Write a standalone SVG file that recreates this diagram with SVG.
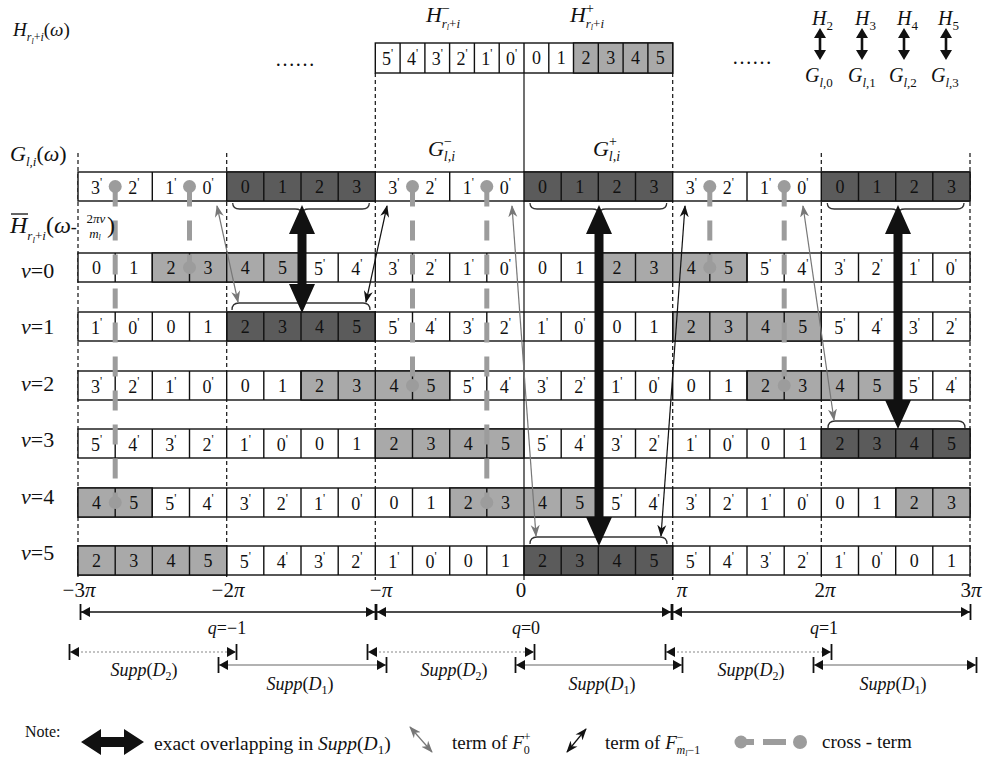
<svg xmlns="http://www.w3.org/2000/svg" width="985" height="760" viewBox="0 0 985 760" font-family="Liberation Serif, Times New Roman, serif">
<style>
text{font-family:"Liberation Serif","Times New Roman",serif;fill:#111}
.c{font-size:18px;text-anchor:middle}
.p{font-size:12px}
.it{font-style:italic}
.w{fill:#fff;stroke:#111;stroke-width:1.4}
.g{fill:#a9a9a9;stroke:#111;stroke-width:1.4}
.d{fill:#5b5b5b;stroke:#111;stroke-width:1.4}
.dv{stroke:#111;stroke-width:1.4;fill:none}
.gd{stroke:#111;stroke-width:1.2;stroke-dasharray:4 3}
.ct{stroke:#9c9c9c;stroke-width:5;stroke-dasharray:20 14;fill:none}
.dt{fill:#9c9c9c}
.br{fill:none;stroke:#333;stroke-width:1.3}
.tg{stroke:#777;stroke-width:1.2;fill:none}
.tk{stroke:#111;stroke-width:1.2;fill:none}
.big{fill:#111}
.ql{stroke:#111;stroke-width:1.3}
.d2{stroke:#888;stroke-width:1.2;stroke-dasharray:2 2}
.d1{stroke:#999;stroke-width:1.5}
</style>
<defs>
<path id="dvr" class="dv" d="M115.2 0v29M152.3 0v29M189.5 0v29M226.7 0v29M263.8 0v29M301 0v29M338.2 0v29M375.3 0v29M412.5 0v29M449.7 0v29M486.8 0v29M524 0v29M561.2 0v29M598.3 0v29M635.5 0v29M672.7 0v29M709.8 0v29M747 0v29M784.2 0v29M821.3 0v29M858.5 0v29M895.7 0v29M932.8 0v29"/>
<marker id="mg" viewBox="0 0 12 10" refX="11" refY="5" markerWidth="12" markerHeight="10" markerUnits="userSpaceOnUse" orient="auto-start-reverse"><path d="M0,0.5 L12,5 L0,9.5 L3.5,5 Z" fill="#777"/></marker>
<marker id="mk" viewBox="0 0 12 10" refX="11" refY="5" markerWidth="12" markerHeight="10" markerUnits="userSpaceOnUse" orient="auto-start-reverse"><path d="M0,0.5 L12,5 L0,9.5 L3.5,5 Z" fill="#111"/></marker>
<marker id="mb" viewBox="0 -9 12 18" refX="11" refY="0" markerWidth="12" markerHeight="18" markerUnits="userSpaceOnUse" orient="auto-start-reverse"><path d="M1,-5 L10,0 L1,5 Z" fill="#111"/><path d="M10.5,-8 V8" stroke="#111" stroke-width="1.8"/></marker>
</defs>
<rect x="0" y="0" width="985" height="760" fill="#fff"/>

<g id="guides">
<path class="gd" d="M78 153V580M226.7 153V580M375.3 73V580M672.7 73V580M821.3 153V580M970 153V580"/>
<path stroke="#111" stroke-width="1.2" d="M524 73V580"/>
</g>

<g id="h-row">
<rect class="w" x="375.3" y="43" width="297.4" height="30"/>
<rect class="g" x="573.5" y="43" width="99.2" height="30"/>
<path class="dv" d="M400.1 43v30M424.9 43v30M449.6 43v30M474.4 43v30M499.2 43v30M524 43v30M548.8 43v30M598.3 43v30M623.1 43v30M647.9 43v30"/>
<text class="c" x="387.7" y="65">5<tspan class="p" dy="-8">'</tspan></text>
<text class="c" x="412.5" y="65">4<tspan class="p" dy="-8">'</tspan></text>
<text class="c" x="437.3" y="65">3<tspan class="p" dy="-8">'</tspan></text>
<text class="c" x="462" y="65">2<tspan class="p" dy="-8">'</tspan></text>
<text class="c" x="486.8" y="65">1<tspan class="p" dy="-8">'</tspan></text>
<text class="c" x="511.6" y="65">0<tspan class="p" dy="-8">'</tspan></text>
<text class="c" x="536.4" y="64">0</text>
<text class="c" x="561.2" y="64">1</text>
<text class="c" x="585.9" y="64">2</text>
<text class="c" x="610.7" y="64">3</text>
<text class="c" x="635.5" y="64">4</text>
<text class="c" x="660.3" y="64">5</text>
</g>

<g id="g-row">
<rect class="w" x="78" y="172" width="892" height="29"/>
<rect class="d" x="226.7" y="172" width="148.6" height="29"/>
<rect class="d" x="524" y="172" width="148.7" height="29"/>
<rect class="d" x="821.3" y="172" width="148.7" height="29"/>
<path class="dv" d="M152.3 172v29M263.8 172v29M301 172v29M338.2 172v29M449.7 172v29M561.2 172v29M598.3 172v29M635.5 172v29M747 172v29M858.5 172v29M895.7 172v29M932.8 172v29"/>
<text class="c" x="96.6" y="194">3<tspan class="p" dy="-8">'</tspan></text>
<text class="c" x="133.8" y="194">2<tspan class="p" dy="-8">'</tspan></text>
<text class="c" x="170.9" y="194">1<tspan class="p" dy="-8">'</tspan></text>
<text class="c" x="208.1" y="194">0<tspan class="p" dy="-8">'</tspan></text>
<text class="c" x="245.3" y="193">0</text>
<text class="c" x="282.4" y="193">1</text>
<text class="c" x="319.6" y="193">2</text>
<text class="c" x="356.8" y="193">3</text>
<text class="c" x="393.9" y="194">3<tspan class="p" dy="-8">'</tspan></text>
<text class="c" x="431.1" y="194">2<tspan class="p" dy="-8">'</tspan></text>
<text class="c" x="468.3" y="194">1<tspan class="p" dy="-8">'</tspan></text>
<text class="c" x="505.4" y="194">0<tspan class="p" dy="-8">'</tspan></text>
<text class="c" x="542.6" y="193">0</text>
<text class="c" x="579.8" y="193">1</text>
<text class="c" x="616.9" y="193">2</text>
<text class="c" x="654.1" y="193">3</text>
<text class="c" x="691.3" y="194">3<tspan class="p" dy="-8">'</tspan></text>
<text class="c" x="728.4" y="194">2<tspan class="p" dy="-8">'</tspan></text>
<text class="c" x="765.6" y="194">1<tspan class="p" dy="-8">'</tspan></text>
<text class="c" x="802.8" y="194">0<tspan class="p" dy="-8">'</tspan></text>
<text class="c" x="839.9" y="193">0</text>
<text class="c" x="877.1" y="193">1</text>
<text class="c" x="914.3" y="193">2</text>
<text class="c" x="951.4" y="193">3</text>
</g>

<g id="row-v0">
<rect class="w" x="78" y="253" width="892" height="29"/>
<rect class="g" x="152.3" y="253" width="148.7" height="29"/>
<rect class="g" x="598.3" y="253" width="148.7" height="29"/>
<use href="#dvr" y="253"/>
<text class="c" x="96.6" y="274">0</text>
<text class="c" x="133.8" y="274">1</text>
<text class="c" x="170.9" y="274">2</text>
<text class="c" x="208.1" y="274">3</text>
<text class="c" x="245.3" y="274">4</text>
<text class="c" x="282.4" y="274">5</text>
<text class="c" x="319.6" y="275">5<tspan class="p" dy="-8">'</tspan></text>
<text class="c" x="356.8" y="275">4<tspan class="p" dy="-8">'</tspan></text>
<text class="c" x="393.9" y="275">3<tspan class="p" dy="-8">'</tspan></text>
<text class="c" x="431.1" y="275">2<tspan class="p" dy="-8">'</tspan></text>
<text class="c" x="468.3" y="275">1<tspan class="p" dy="-8">'</tspan></text>
<text class="c" x="505.4" y="275">0<tspan class="p" dy="-8">'</tspan></text>
<text class="c" x="542.6" y="274">0</text>
<text class="c" x="579.8" y="274">1</text>
<text class="c" x="616.9" y="274">2</text>
<text class="c" x="654.1" y="274">3</text>
<text class="c" x="691.3" y="274">4</text>
<text class="c" x="728.4" y="274">5</text>
<text class="c" x="765.6" y="275">5<tspan class="p" dy="-8">'</tspan></text>
<text class="c" x="802.8" y="275">4<tspan class="p" dy="-8">'</tspan></text>
<text class="c" x="839.9" y="275">3<tspan class="p" dy="-8">'</tspan></text>
<text class="c" x="877.1" y="275">2<tspan class="p" dy="-8">'</tspan></text>
<text class="c" x="914.3" y="275">1<tspan class="p" dy="-8">'</tspan></text>
<text class="c" x="951.4" y="275">0<tspan class="p" dy="-8">'</tspan></text>
</g>

<g id="row-v1">
<rect class="w" x="78" y="312" width="892" height="29"/>
<rect class="d" x="226.7" y="312" width="148.6" height="29"/>
<rect class="g" x="672.7" y="312" width="148.6" height="29"/>
<use href="#dvr" y="312"/>
<text class="c" x="96.6" y="334">1<tspan class="p" dy="-8">'</tspan></text>
<text class="c" x="133.8" y="334">0<tspan class="p" dy="-8">'</tspan></text>
<text class="c" x="170.9" y="333">0</text>
<text class="c" x="208.1" y="333">1</text>
<text class="c" x="245.3" y="333">2</text>
<text class="c" x="282.4" y="333">3</text>
<text class="c" x="319.6" y="333">4</text>
<text class="c" x="356.8" y="333">5</text>
<text class="c" x="393.9" y="334">5<tspan class="p" dy="-8">'</tspan></text>
<text class="c" x="431.1" y="334">4<tspan class="p" dy="-8">'</tspan></text>
<text class="c" x="468.3" y="334">3<tspan class="p" dy="-8">'</tspan></text>
<text class="c" x="505.4" y="334">2<tspan class="p" dy="-8">'</tspan></text>
<text class="c" x="542.6" y="334">1<tspan class="p" dy="-8">'</tspan></text>
<text class="c" x="579.8" y="334">0<tspan class="p" dy="-8">'</tspan></text>
<text class="c" x="616.9" y="333">0</text>
<text class="c" x="654.1" y="333">1</text>
<text class="c" x="691.3" y="333">2</text>
<text class="c" x="728.4" y="333">3</text>
<text class="c" x="765.6" y="333">4</text>
<text class="c" x="802.8" y="333">5</text>
<text class="c" x="839.9" y="334">5<tspan class="p" dy="-8">'</tspan></text>
<text class="c" x="877.1" y="334">4<tspan class="p" dy="-8">'</tspan></text>
<text class="c" x="914.3" y="334">3<tspan class="p" dy="-8">'</tspan></text>
<text class="c" x="951.4" y="334">2<tspan class="p" dy="-8">'</tspan></text>
</g>

<g id="row-v2">
<rect class="w" x="78" y="371" width="892" height="29"/>
<rect class="g" x="301" y="371" width="148.7" height="29"/>
<rect class="g" x="747" y="371" width="148.7" height="29"/>
<use href="#dvr" y="371"/>
<text class="c" x="96.6" y="393">3<tspan class="p" dy="-8">'</tspan></text>
<text class="c" x="133.8" y="393">2<tspan class="p" dy="-8">'</tspan></text>
<text class="c" x="170.9" y="393">1<tspan class="p" dy="-8">'</tspan></text>
<text class="c" x="208.1" y="393">0<tspan class="p" dy="-8">'</tspan></text>
<text class="c" x="245.3" y="392">0</text>
<text class="c" x="282.4" y="392">1</text>
<text class="c" x="319.6" y="392">2</text>
<text class="c" x="356.8" y="392">3</text>
<text class="c" x="393.9" y="392">4</text>
<text class="c" x="431.1" y="392">5</text>
<text class="c" x="468.3" y="393">5<tspan class="p" dy="-8">'</tspan></text>
<text class="c" x="505.4" y="393">4<tspan class="p" dy="-8">'</tspan></text>
<text class="c" x="542.6" y="393">3<tspan class="p" dy="-8">'</tspan></text>
<text class="c" x="579.8" y="393">2<tspan class="p" dy="-8">'</tspan></text>
<text class="c" x="616.9" y="393">1<tspan class="p" dy="-8">'</tspan></text>
<text class="c" x="654.1" y="393">0<tspan class="p" dy="-8">'</tspan></text>
<text class="c" x="691.3" y="392">0</text>
<text class="c" x="728.4" y="392">1</text>
<text class="c" x="765.6" y="392">2</text>
<text class="c" x="802.8" y="392">3</text>
<text class="c" x="839.9" y="392">4</text>
<text class="c" x="877.1" y="392">5</text>
<text class="c" x="914.3" y="393">5<tspan class="p" dy="-8">'</tspan></text>
<text class="c" x="951.4" y="393">4<tspan class="p" dy="-8">'</tspan></text>
</g>

<g id="row-v3">
<rect class="w" x="78" y="429" width="892" height="29"/>
<rect class="g" x="375.3" y="429" width="148.7" height="29"/>
<rect class="d" x="821.3" y="429" width="148.7" height="29"/>
<use href="#dvr" y="429"/>
<text class="c" x="96.6" y="451">5<tspan class="p" dy="-8">'</tspan></text>
<text class="c" x="133.8" y="451">4<tspan class="p" dy="-8">'</tspan></text>
<text class="c" x="170.9" y="451">3<tspan class="p" dy="-8">'</tspan></text>
<text class="c" x="208.1" y="451">2<tspan class="p" dy="-8">'</tspan></text>
<text class="c" x="245.3" y="451">1<tspan class="p" dy="-8">'</tspan></text>
<text class="c" x="282.4" y="451">0<tspan class="p" dy="-8">'</tspan></text>
<text class="c" x="319.6" y="450">0</text>
<text class="c" x="356.8" y="450">1</text>
<text class="c" x="393.9" y="450">2</text>
<text class="c" x="431.1" y="450">3</text>
<text class="c" x="468.3" y="450">4</text>
<text class="c" x="505.4" y="450">5</text>
<text class="c" x="542.6" y="451">5<tspan class="p" dy="-8">'</tspan></text>
<text class="c" x="579.8" y="451">4<tspan class="p" dy="-8">'</tspan></text>
<text class="c" x="616.9" y="451">3<tspan class="p" dy="-8">'</tspan></text>
<text class="c" x="654.1" y="451">2<tspan class="p" dy="-8">'</tspan></text>
<text class="c" x="691.3" y="451">1<tspan class="p" dy="-8">'</tspan></text>
<text class="c" x="728.4" y="451">0<tspan class="p" dy="-8">'</tspan></text>
<text class="c" x="765.6" y="450">0</text>
<text class="c" x="802.8" y="450">1</text>
<text class="c" x="839.9" y="450">2</text>
<text class="c" x="877.1" y="450">3</text>
<text class="c" x="914.3" y="450">4</text>
<text class="c" x="951.4" y="450">5</text>
</g>

<g id="row-v4">
<rect class="w" x="78" y="488" width="892" height="29"/>
<rect class="g" x="78" y="488" width="74.3" height="29"/>
<rect class="g" x="449.7" y="488" width="148.6" height="29"/>
<rect class="g" x="895.7" y="488" width="74.3" height="29"/>
<use href="#dvr" y="488"/>
<text class="c" x="96.6" y="509">4</text>
<text class="c" x="133.8" y="509">5</text>
<text class="c" x="170.9" y="510">5<tspan class="p" dy="-8">'</tspan></text>
<text class="c" x="208.1" y="510">4<tspan class="p" dy="-8">'</tspan></text>
<text class="c" x="245.3" y="510">3<tspan class="p" dy="-8">'</tspan></text>
<text class="c" x="282.4" y="510">2<tspan class="p" dy="-8">'</tspan></text>
<text class="c" x="319.6" y="510">1<tspan class="p" dy="-8">'</tspan></text>
<text class="c" x="356.8" y="510">0<tspan class="p" dy="-8">'</tspan></text>
<text class="c" x="393.9" y="509">0</text>
<text class="c" x="431.1" y="509">1</text>
<text class="c" x="468.3" y="509">2</text>
<text class="c" x="505.4" y="509">3</text>
<text class="c" x="542.6" y="509">4</text>
<text class="c" x="579.8" y="509">5</text>
<text class="c" x="616.9" y="510">5<tspan class="p" dy="-8">'</tspan></text>
<text class="c" x="654.1" y="510">4<tspan class="p" dy="-8">'</tspan></text>
<text class="c" x="691.3" y="510">3<tspan class="p" dy="-8">'</tspan></text>
<text class="c" x="728.4" y="510">2<tspan class="p" dy="-8">'</tspan></text>
<text class="c" x="765.6" y="510">1<tspan class="p" dy="-8">'</tspan></text>
<text class="c" x="802.8" y="510">0<tspan class="p" dy="-8">'</tspan></text>
<text class="c" x="839.9" y="509">0</text>
<text class="c" x="877.1" y="509">1</text>
<text class="c" x="914.3" y="509">2</text>
<text class="c" x="951.4" y="509">3</text>
</g>

<g id="row-v5">
<rect class="w" x="78" y="546" width="892" height="29"/>
<rect class="g" x="78" y="546" width="148.7" height="29"/>
<rect class="d" x="524" y="546" width="148.7" height="29"/>
<use href="#dvr" y="546"/>
<text class="c" x="96.6" y="567">2</text>
<text class="c" x="133.8" y="567">3</text>
<text class="c" x="170.9" y="567">4</text>
<text class="c" x="208.1" y="567">5</text>
<text class="c" x="245.3" y="568">5<tspan class="p" dy="-8">'</tspan></text>
<text class="c" x="282.4" y="568">4<tspan class="p" dy="-8">'</tspan></text>
<text class="c" x="319.6" y="568">3<tspan class="p" dy="-8">'</tspan></text>
<text class="c" x="356.8" y="568">2<tspan class="p" dy="-8">'</tspan></text>
<text class="c" x="393.9" y="568">1<tspan class="p" dy="-8">'</tspan></text>
<text class="c" x="431.1" y="568">0<tspan class="p" dy="-8">'</tspan></text>
<text class="c" x="468.3" y="567">0</text>
<text class="c" x="505.4" y="567">1</text>
<text class="c" x="542.6" y="567">2</text>
<text class="c" x="579.8" y="567">3</text>
<text class="c" x="616.9" y="567">4</text>
<text class="c" x="654.1" y="567">5</text>
<text class="c" x="691.3" y="568">5<tspan class="p" dy="-8">'</tspan></text>
<text class="c" x="728.4" y="568">4<tspan class="p" dy="-8">'</tspan></text>
<text class="c" x="765.6" y="568">3<tspan class="p" dy="-8">'</tspan></text>
<text class="c" x="802.8" y="568">2<tspan class="p" dy="-8">'</tspan></text>
<text class="c" x="839.9" y="568">1<tspan class="p" dy="-8">'</tspan></text>
<text class="c" x="877.1" y="568">0<tspan class="p" dy="-8">'</tspan></text>
<text class="c" x="914.3" y="567">0</text>
<text class="c" x="951.4" y="567">1</text>
</g>

<g id="connectors">
<g id="braces">
<path class="br" d="M232.7 203Q232.7 209 239.7 209L295 209Q302 209 302 214Q302 209 309 209L362.3 209Q369.3 209 369.3 203"/>
<path class="br" d="M530 203Q530 209 537 209L592 209Q599 209 599 214Q599 209 606 209L659.7 209Q666.7 209 666.7 203"/>
<path class="br" d="M827.3 203Q827.3 209 834.3 209L891 209Q898 209 898 214Q898 209 905 209L957 209Q964 209 964 203"/>
<path class="br" d="M232 310Q232 303 239 303L363 303Q370 303 370 310"/>
<path class="br" d="M530 544Q530 537 537 537L660 537Q667 537 667 544"/>
<path class="br" d="M828 428Q828 421 835 421L958 421Q965 421 965 428"/>
</g>
<g id="cross-terms">
<path class="ct" d="M115.2 186.5V502.5M189.5 186.5V267.5M412.5 186.5V385.5M486.8 186.5V502.5M709.8 186.5V267.5M784.2 186.5V385.5"/>
<circle class="dt" cx="115.2" cy="186.5" r="6.5"/><circle class="dt" cx="115.2" cy="502.5" r="6.5"/>
<circle class="dt" cx="189.5" cy="186.5" r="6.5"/><circle class="dt" cx="189.5" cy="267.5" r="6.5"/>
<circle class="dt" cx="412.5" cy="186.5" r="6.5"/><circle class="dt" cx="412.5" cy="385.5" r="6.5"/>
<circle class="dt" cx="486.8" cy="186.5" r="6.5"/><circle class="dt" cx="486.8" cy="502.5" r="6.5"/>
<circle class="dt" cx="709.8" cy="186.5" r="6.5"/><circle class="dt" cx="709.8" cy="267.5" r="6.5"/>
<circle class="dt" cx="784.2" cy="186.5" r="6.5"/><circle class="dt" cx="784.2" cy="385.5" r="6.5"/>
</g>
<g id="thin-arrows">
<line class="tg" x1="217" y1="206" x2="238" y2="302" marker-start="url(#mg)" marker-end="url(#mg)"/>
<line class="tg" x1="512" y1="206" x2="536" y2="536" marker-start="url(#mg)" marker-end="url(#mg)"/>
<line class="tg" x1="803" y1="206" x2="834" y2="420" marker-start="url(#mg)" marker-end="url(#mg)"/>
<line class="tk" x1="387" y1="206" x2="366" y2="302" marker-start="url(#mk)" marker-end="url(#mk)"/>
<line class="tk" x1="685" y1="206" x2="661" y2="536" marker-start="url(#mk)" marker-end="url(#mk)"/>
</g>
<g id="overlap-arrows">
<polygon class="big" points="302,205 315,234 306.5,234 306.5,284 315,284 302,313 289,284 297.5,284 297.5,234 289,234"/>
<polygon class="big" points="599,205 612,234 603.5,234 603.5,517 612,517 599,546 586,517 594.5,517 594.5,234 586,234"/>
<polygon class="big" points="898,205 911,234 902.5,234 902.5,400 911,400 898,429 885,400 893.5,400 893.5,234 885,234"/>
</g>
</g>

<g id="labels">
<text x="13" y="36" font-size="19"><tspan class="it">H</tspan><tspan class="it" font-size="12" dy="5">r</tspan><tspan class="it" font-size="8" dy="3">l</tspan><tspan font-size="12" dy="-3">+</tspan><tspan class="it" font-size="12">i</tspan><tspan dy="-5">(</tspan><tspan class="it">ω</tspan>)</text>
<text x="10" y="161" font-size="22"><tspan class="it">G</tspan><tspan class="it" font-size="13" dy="5">l,i</tspan><tspan dy="-5">(</tspan><tspan class="it">ω</tspan>)</text>
<text x="10" y="233" font-size="24"><tspan class="it">H</tspan><tspan class="it" font-size="13" dy="7">r</tspan><tspan class="it" font-size="9" dy="3">l</tspan><tspan font-size="13" dy="-3">+</tspan><tspan class="it" font-size="13">i</tspan><tspan dy="-7">(</tspan><tspan class="it">ω</tspan><tspan font-size="18">-</tspan></text>
<line x1="11" y1="214" x2="28" y2="214" stroke="#111" stroke-width="1.3"/>
<text x="96" y="223" font-size="13" text-anchor="middle">2<tspan class="it">πv</tspan></text>
<text x="95" y="238" font-size="13" text-anchor="middle"><tspan class="it">m</tspan><tspan class="it" font-size="8" dy="2">l</tspan></text>
<text x="107" y="233" font-size="24">)</text>
<text x="21" y="277.5" font-size="22"><tspan class="it">v</tspan>=0</text>
<text x="21" y="334" font-size="22"><tspan class="it">v</tspan>=1</text>
<text x="21" y="390.5" font-size="22"><tspan class="it">v</tspan>=2</text>
<text x="21" y="447" font-size="22"><tspan class="it">v</tspan>=3</text>
<text x="21" y="503.5" font-size="22"><tspan class="it">v</tspan>=4</text>
<text x="21" y="560" font-size="22"><tspan class="it">v</tspan>=5</text>
<text x="275" y="66" font-size="20">……</text>
<text x="732" y="64" font-size="20">……</text>
<text x="426" y="22" font-size="22"><tspan class="it">H</tspan><tspan font-size="14" dy="-9">−</tspan><tspan class="it" font-size="13" dx="-8" dy="15">r</tspan><tspan class="it" font-size="8" dy="2">l</tspan><tspan font-size="13" dy="-2">+</tspan><tspan class="it" font-size="13">i</tspan></text>
<text x="570" y="22" font-size="22"><tspan class="it">H</tspan><tspan font-size="14" dy="-9">+</tspan><tspan class="it" font-size="13" dx="-8" dy="15">r</tspan><tspan class="it" font-size="8" dy="2">l</tspan><tspan font-size="13" dy="-2">+</tspan><tspan class="it" font-size="13">i</tspan></text>
<text x="428" y="156" font-size="22"><tspan class="it">G</tspan><tspan font-size="14" dy="-10">−</tspan><tspan class="it" font-size="14" dx="-8" dy="15">l,i</tspan></text>
<text x="593" y="156" font-size="22"><tspan class="it">G</tspan><tspan font-size="14" dy="-10">+</tspan><tspan class="it" font-size="14" dx="-8" dy="15">l,i</tspan></text>
</g>

<g id="mapping-legend">
<text x="812" y="25" font-size="20"><tspan class="it">H</tspan><tspan font-size="13" dy="5">2</tspan></text>
<text x="855" y="25" font-size="20"><tspan class="it">H</tspan><tspan font-size="13" dy="5">3</tspan></text>
<text x="897" y="25" font-size="20"><tspan class="it">H</tspan><tspan font-size="13" dy="5">4</tspan></text>
<text x="938" y="25" font-size="20"><tspan class="it">H</tspan><tspan font-size="13" dy="5">5</tspan></text>
<polygon class="big" points="820,28 826,38 821.3,38 821.3,50 826,50 820,60 814,50 818.7,50 818.7,38 814,38"/>
<polygon class="big" points="862,28 868,38 863.3,38 863.3,50 868,50 862,60 856,50 860.7,50 860.7,38 856,38"/>
<polygon class="big" points="904,28 910,38 905.3,38 905.3,50 910,50 904,60 898,50 902.7,50 902.7,38 898,38"/>
<polygon class="big" points="946,28 952,38 947.3,38 947.3,50 952,50 946,60 940,50 944.7,50 944.7,38 940,38"/>
<text x="805" y="82" font-size="20"><tspan class="it">G</tspan><tspan font-size="13" dy="5"><tspan class="it">l</tspan>,0</tspan></text>
<text x="848" y="82" font-size="20"><tspan class="it">G</tspan><tspan font-size="13" dy="5"><tspan class="it">l</tspan>,1</tspan></text>
<text x="889" y="82" font-size="20"><tspan class="it">G</tspan><tspan font-size="13" dy="5"><tspan class="it">l</tspan>,2</tspan></text>
<text x="931" y="82" font-size="20"><tspan class="it">G</tspan><tspan font-size="13" dy="5"><tspan class="it">l</tspan>,3</tspan></text>
</g>

<g id="axis">
<text x="79" y="597" font-size="21" text-anchor="middle">−3<tspan class="it">π</tspan></text>
<text x="228" y="597" font-size="21" text-anchor="middle">−2<tspan class="it">π</tspan></text>
<text x="381" y="597" font-size="21" text-anchor="middle">−<tspan class="it">π</tspan></text>
<text x="521" y="597" font-size="21" text-anchor="middle">0</text>
<text x="682" y="597" font-size="21" text-anchor="middle"><tspan class="it">π</tspan></text>
<text x="825" y="597" font-size="21" text-anchor="middle">2<tspan class="it">π</tspan></text>
<text x="971" y="597" font-size="21" text-anchor="middle">3<tspan class="it">π</tspan></text>
</g>

<g id="q-ranges">
<line class="ql" x1="80" y1="612" x2="376" y2="612" marker-start="url(#mb)" marker-end="url(#mb)"/>
<line class="ql" x1="376" y1="612" x2="672" y2="612" marker-start="url(#mb)" marker-end="url(#mb)"/>
<line class="ql" x1="672" y1="612" x2="971" y2="612" marker-start="url(#mb)" marker-end="url(#mb)"/>
<text x="227" y="634" font-size="18" text-anchor="middle"><tspan class="it">q</tspan>=−1</text>
<text x="526" y="634" font-size="18" text-anchor="middle"><tspan class="it">q</tspan>=0</text>
<text x="824" y="634" font-size="18" text-anchor="middle"><tspan class="it">q</tspan>=1</text>
</g>

<g id="supp-ranges">
<line class="d2" x1="69" y1="652" x2="237" y2="652" marker-start="url(#mb)" marker-end="url(#mb)"/>
<line class="d2" x1="367" y1="652" x2="535" y2="652" marker-start="url(#mb)" marker-end="url(#mb)"/>
<line class="d2" x1="665" y1="652" x2="832" y2="652" marker-start="url(#mb)" marker-end="url(#mb)"/>
<line class="d1" x1="218" y1="665" x2="387" y2="665" marker-start="url(#mb)" marker-end="url(#mb)"/>
<line class="d1" x1="515" y1="665" x2="683" y2="665" marker-start="url(#mb)" marker-end="url(#mb)"/>
<line class="d1" x1="813" y1="665" x2="977" y2="665" marker-start="url(#mb)" marker-end="url(#mb)"/>
<text x="144" y="676" font-size="18" text-anchor="middle"><tspan class="it">Supp</tspan>(<tspan class="it">D</tspan><tspan font-size="12" dy="4">2</tspan><tspan dy="-4">)</tspan></text>
<text x="454" y="676" font-size="18" text-anchor="middle"><tspan class="it">Supp</tspan>(<tspan class="it">D</tspan><tspan font-size="12" dy="4">2</tspan><tspan dy="-4">)</tspan></text>
<text x="751" y="676" font-size="18" text-anchor="middle"><tspan class="it">Supp</tspan>(<tspan class="it">D</tspan><tspan font-size="12" dy="4">2</tspan><tspan dy="-4">)</tspan></text>
<text x="300" y="690" font-size="18" text-anchor="middle"><tspan class="it">Supp</tspan>(<tspan class="it">D</tspan><tspan font-size="12" dy="4">1</tspan><tspan dy="-4">)</tspan></text>
<text x="602" y="690" font-size="18" text-anchor="middle"><tspan class="it">Supp</tspan>(<tspan class="it">D</tspan><tspan font-size="12" dy="4">1</tspan><tspan dy="-4">)</tspan></text>
<text x="893" y="690" font-size="18" text-anchor="middle"><tspan class="it">Supp</tspan>(<tspan class="it">D</tspan><tspan font-size="12" dy="4">1</tspan><tspan dy="-4">)</tspan></text>
</g>

<g id="legend">
<text x="25" y="737" font-size="16">Note:</text>
<polygon class="big" points="81,742 101,729 101,737 124,737 124,729 144,742 124,755 124,747 101,747 101,755"/>
<text x="154" y="750" font-size="19.5">exact overlapping in <tspan class="it">Supp</tspan>(<tspan class="it">D</tspan><tspan font-size="13" dy="4">1</tspan><tspan dy="-4">)</tspan></text>
<line class="tg" x1="410" y1="727" x2="432" y2="752" marker-start="url(#mg)" marker-end="url(#mg)"/>
<text x="452" y="749" font-size="19">term of <tspan class="it">F</tspan><tspan font-size="12" dy="5">0</tspan><tspan font-size="12" dx="-6" dy="-13">+</tspan></text>
<line class="tk" x1="567" y1="752" x2="586" y2="729" marker-start="url(#mk)" marker-end="url(#mk)"/>
<text x="605" y="749" font-size="19">term of <tspan class="it">F</tspan><tspan font-size="12" dy="-8">−</tspan><tspan class="it" font-size="12" dx="-7" dy="13">m</tspan><tspan class="it" font-size="8" dy="2">l</tspan><tspan font-size="12" dy="-2">−1</tspan></text>
<circle class="dt" cx="741" cy="742" r="6.5"/>
<path stroke="#9c9c9c" stroke-width="6" d="M741 742H754M763 742H786"/>
<circle class="dt" cx="800" cy="742" r="7"/>
<text x="822" y="748" font-size="19">cross - term</text>
</g>
</svg>
